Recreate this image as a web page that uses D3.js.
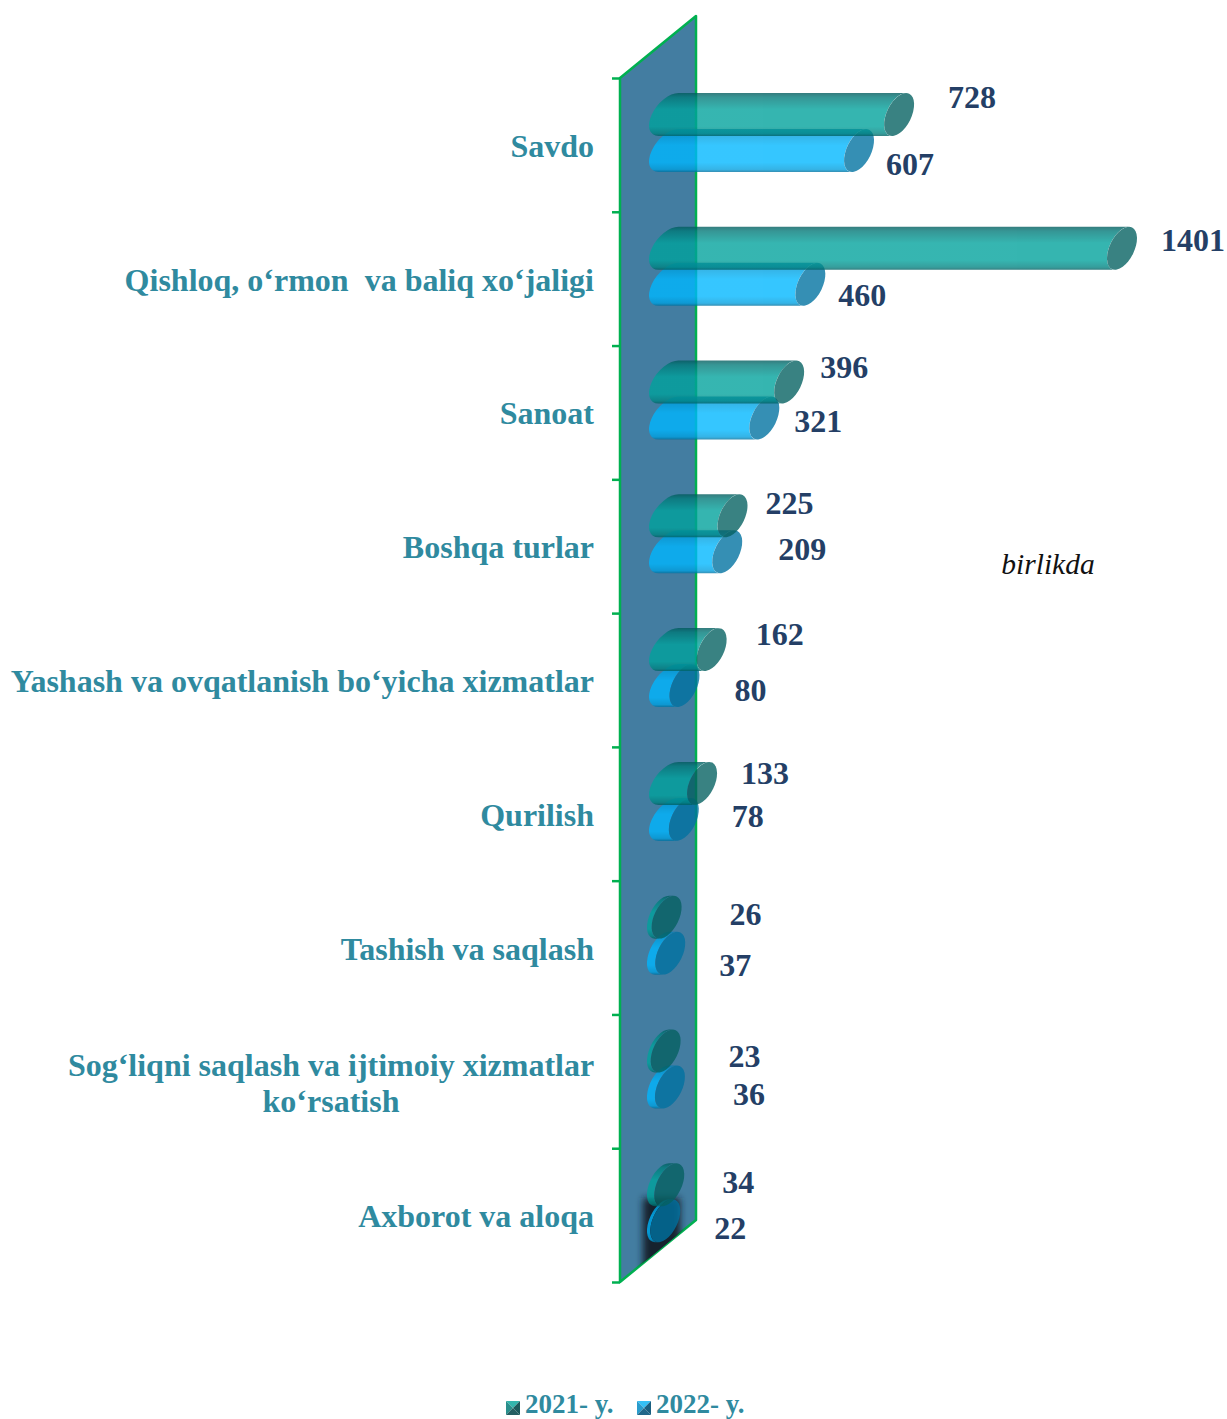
<!DOCTYPE html>
<html><head><meta charset="utf-8">
<script src="https://cdnjs.cloudflare.com/ajax/libs/d3/7.8.5/d3.min.js"></script>
<style>html,body{margin:0;padding:0;background:#fff}svg{display:block}text{font-family:"Liberation Serif",serif}</style>
</head><body><div id="c"></div>
<script>
const categories=[["Savdo"],["Qishloq, o‘rmon  va baliq xo‘jaligi"],["Sanoat"],["Boshqa turlar"],["Yashash va ovqatlanish bo‘yicha xizmatlar"],["Qurilish"],["Tashish va saqlash"],["Sog‘liqni saqlash va ijtimoiy xizmatlar","ko‘rsatish"],["Axborot va aloqa"]];
const values2021=[728,1401,396,225,162,133,26,23,34];
const values2022=[607,460,321,209,80,78,37,36,22];
const seriesNames=["2021- y.","2022- y."];
// hand-placed data-label nudges (from bar tip / bar centre)
const nudge2021=[[58,-17],[56,-8],[40,-15],[42,-12],[53,-15],[48,-10],[64,-3],[64,6],[54,-2]];
const nudge2022=[[36,14],[37,11],[39,3],[60,-2],[51,5],[49,-3],[50,12],[64,8],[50,8]];

const W=1227,H=1419;
const svg=d3.select("#c").append("svg").attr("width",W).attr("height",H);
const defs=svg.append("defs");
const yTop=78,yBot=1282,wallL=620,wallR=696,rise=62;
const yScale=d3.scaleBand().domain(categories.map((d,i)=>i)).range([yTop,yBot]);
const xScale=d3.scaleLinear().domain([0,1401]).range([673,1137]);
const tickScale=d3.scaleLinear().domain([0,categories.length]).range([yTop,yBot]);

function vgrad(id,stops){const g=defs.append("linearGradient").attr("id",id).attr("x1",0).attr("x2",0).attr("y1",0).attr("y2",1);
  stops.forEach(s=>g.append("stop").attr("offset",s[0]).attr("stop-color",s[1]));}
vgrad("gT",[[0,"#005a5c"],[.1,"#007a79"],[.38,"#00a29c"],[.78,"#00a29c"],[.94,"#008482"],[1,"#005f61"]]);
vgrad("gB",[[0,"#0078b0"],[.1,"#009bd9"],[.38,"#00b7ff"],[.78,"#00b7ff"],[.94,"#00a0e0"],[1,"#00709e"]]);
const wallPts=[[wallL,yTop],[wallR,yTop-rise],[wallR,yBot-rise],[wallL,yBot]].join(" ");
defs.append("clipPath").attr("id","wallClip").append("polygon").attr("points",wallPts);
defs.append("filter").attr("id","blur").attr("x","-50%").attr("y","-50%").attr("width","200%").attr("height","200%")
  .append("feGaussianBlur").attr("stdDeviation",3.5);

// wall
svg.append("polygon").attr("points",wallPts)
  .attr("fill","#437da1").attr("stroke","#00b050").attr("stroke-width",2.5).attr("stroke-linejoin","round");
svg.append("g").attr("clip-path","url(#wallClip)").append("rect")
  .attr("x",643).attr("y",1198).attr("width",37).attr("height",90)
  .attr("fill","#14212e").attr("filter","url(#blur)");

// axis ticks
const axis=d3.axisLeft(tickScale).tickValues(d3.range(categories.length+1)).tickSize(8).tickFormat("");
const ag=svg.append("g").attr("transform",`translate(${wallL},0)`).call(axis);
ag.select(".domain").remove();
ag.selectAll("line").attr("stroke","#00b050").attr("stroke-width",2.5);

// cylinder geometry: far end cap ellipse, near rounded end
const rA=23.1,rB=12.3,rot=-64,halfH=21.5,lean=7;
function body(tip,cy){
  const c=tip-15;
  const arc=`A${rA} ${rB} ${rot} 0 `;
  const start=c<680
    ? `M${662+lean} ${cy-halfH}${arc}0 ${662-lean} ${cy+halfH}`
    : `M678.5 ${cy-halfH}A25.3 14.2 -50.4 0 0 658.5 ${cy+halfH}`;
  return `${start}L${c-lean} ${cy+halfH}${arc}1 ${c+lean} ${cy-halfH}Z`;
}
function drawBar(v,cy,grad,capCol){
  const tip=xScale(v),g=svg.append("g").attr("opacity",.79);
  g.append("path").attr("d",body(tip,cy)).attr("fill",`url(#${grad})`);
  g.append("ellipse").attr("rx",rA).attr("ry",rB)
   .attr("transform",`translate(${tip-15},${cy}) rotate(${rot})`).attr("fill",capCol);
}
const band=yScale.bandwidth();
categories.forEach((c,i)=>{
  const mid=yScale(i)+band/2;
  drawBar(values2022[i],mid+5.6,"gB","#0072a1");
  drawBar(values2021[i],mid-30.4,"gT","#056161");
});

// category labels
categories.forEach((c,i)=>{
  const mid=yScale(i)+band/2;
  if(c.length===1){
    svg.append("text").attr("x",594).attr("y",mid+12).attr("text-anchor","end")
      .attr("font-size",32).attr("font-weight","bold").attr("fill","#2f8a9f").style("white-space","pre").text(c[0]);
  }else{
    c.forEach((t,j)=>svg.append("text").attr("x",331).attr("y",mid-5+j*36).attr("text-anchor","middle")
      .attr("font-size",32).attr("font-weight","bold").attr("fill","#2f8a9f").text(t));
  }
});

// value labels
function valLabels(vals,nd,off){
  vals.forEach((v,i)=>{
    const cy=yScale(i)+band/2+off;
    svg.append("text").attr("x",xScale(v)+nd[i][0]).attr("y",cy+nd[i][1]+10.5).attr("text-anchor","middle")
      .attr("font-size",32).attr("font-weight","bold").attr("fill","#243f66").text(v);
  });
}
valLabels(values2021,nudge2021,-30.4);
valLabels(values2022,nudge2022,5.6);

svg.append("text").attr("x",1048).attr("y",574).attr("text-anchor","middle")
  .attr("font-size",29.5).attr("font-style","italic").attr("fill","#111").text("birlikda");

// legend
const legendX=[506,637],swatch=[["#33b5ad","#2a8f8c","#1c5a5c","#255f62"],["#35c0f5","#2a9ccc","#1a5f80","#22688a"]];
seriesNames.forEach((n,i)=>{
  const x0=legendX[i],y0=1401,s=14,m=[x0+s/2,y0+s/2];
  const corners=[[x0,y0],[x0+s,y0],[x0+s,y0+s],[x0,y0+s]];
  [[0,1],[3,0],[1,2],[2,3]].forEach((p,k)=>{
    svg.append("polygon").attr("points",[corners[p[0]],corners[p[1]],m].join(" ")).attr("fill",swatch[i][k]);
  });
  svg.append("text").attr("x",x0+19).attr("y",1413).attr("font-size",27).attr("font-weight","bold").attr("fill","#2f8a9f").text(n);
});
</script></body></html>
